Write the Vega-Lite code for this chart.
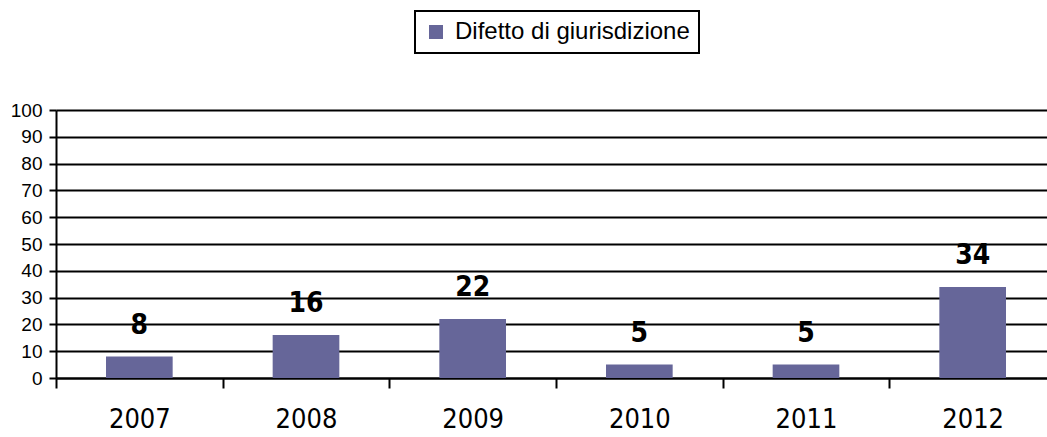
{
  "$schema": "https://vega.github.io/schema/vega-lite/v6.json",
  "width": 991,
  "height": 268,
  "autosize": "none",
  "padding": {"left": 56, "top": 110, "right": 0, "bottom": 59},
  "background": "white",
  "data": {
    "values": [
      {"anno": "2007", "valore": 8, "serie": "Difetto di giurisdizione"},
      {"anno": "2008", "valore": 16, "serie": "Difetto di giurisdizione"},
      {"anno": "2009", "valore": 22, "serie": "Difetto di giurisdizione"},
      {"anno": "2010", "valore": 5, "serie": "Difetto di giurisdizione"},
      {"anno": "2011", "valore": 5, "serie": "Difetto di giurisdizione"},
      {"anno": "2012", "valore": 34, "serie": "Difetto di giurisdizione"}
    ]
  },
  "encoding": {
    "x": {
      "field": "anno",
      "type": "ordinal",
      "scale": {"range": [0, 1000], "paddingInner": 0.6, "paddingOuter": 0.3},
      "axis": {
        "title": null,
        "labelAngle": 0,
        "labelFont": "DejaVu Sans Condensed, Liberation Sans",
        "labelFontSize": 27,
        "labelColor": "black",
        "labelPadding": 18,
        "tickOffset": -83.33,
        "labelOffset": 83.33,
        "tickSize": 10,
        "tickWidth": 2,
        "tickColor": "black",
        "domainColor": "black",
        "domainWidth": 2,
        "grid": false
      }
    },
    "y": {
      "field": "valore",
      "type": "quantitative",
      "scale": {"domain": [0, 100], "nice": false},
      "axis": {
        "title": null,
        "values": [0, 10, 20, 30, 40, 50, 60, 70, 80, 90, 100],
        "labelFont": "Liberation Sans",
        "labelFontSize": 19,
        "labelColor": "black",
        "labelPadding": 7,
        "tickSize": 7,
        "tickWidth": 2,
        "tickColor": "black",
        "domainColor": "black",
        "domainWidth": 2,
        "grid": true,
        "gridColor": "black",
        "gridWidth": 2,
        "gridOpacity": 1
      }
    }
  },
  "layer": [
    {
      "mark": {"type": "bar"},
      "encoding": {
        "color": {
          "field": "serie",
          "type": "nominal",
          "scale": {"range": ["#666699"]},
          "legend": {
            "title": null,
            "orient": "none",
            "legendX": 359,
            "legendY": -99,
            "strokeColor": "black",
            "fillColor": "white",
            "padding": 9,
            "symbolType": "square",
            "symbolSize": 196,
            "symbolStrokeWidth": 0,
            "labelFont": "Liberation Sans",
            "labelFontSize": 24,
            "labelLimit": 500,
            "labelColor": "black",
            "labelOffset": 7
          }
        }
      }
    },
    {
      "mark": {
        "type": "text",
        "baseline": "alphabetic",
        "dy": -23,
        "font": "DejaVu Sans Condensed, Liberation Sans",
        "fontWeight": "bold",
        "fontSize": 28,
        "color": "black"
      },
      "encoding": {"text": {"field": "valore", "type": "quantitative"}}
    }
  ],
  "config": {
    "view": {"stroke": null},
    "legend": {"strokeWidth": 2}
  }
}
